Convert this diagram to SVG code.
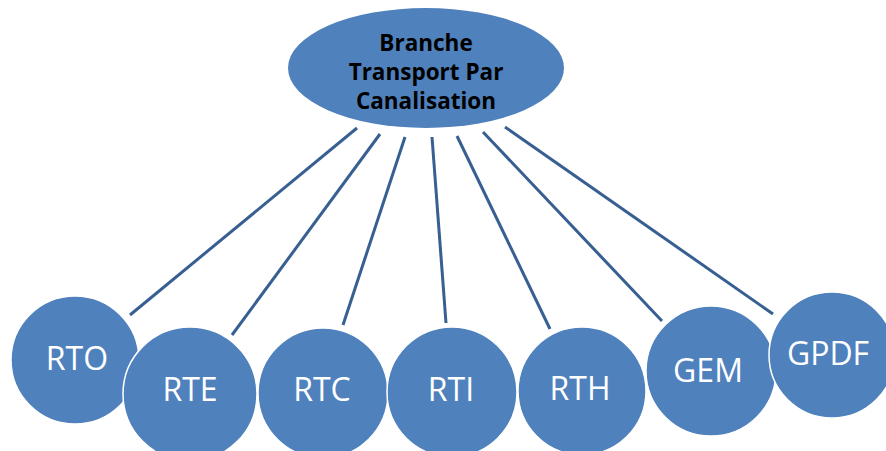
<svg xmlns="http://www.w3.org/2000/svg" width="886" height="451" viewBox="0 0 886 451">
<style>
.node{fill:#4F81BD;stroke:#FFFFFF;stroke-width:1.5}
.top{fill:#4F81BD;stroke:none}
.lbl{font-family:"Open Sans","Liberation Sans",sans-serif;font-size:32px;fill:#FFFFFF;text-anchor:middle;dominant-baseline:central}
.ttl{font-family:"Open Sans","Liberation Sans",sans-serif;font-weight:700;font-size:22.5px;fill:#000000;text-anchor:middle;dominant-baseline:central}
.conn line{stroke:#375F91;stroke-width:3;stroke-linecap:butt}
</style>
<rect width="886" height="451" fill="#FFFFFF"/>
<g id="connectors" class="conn">
<line x1="357" y1="128" x2="130" y2="315"/>
<line x1="380" y1="134" x2="232" y2="335"/>
<line x1="405" y1="137" x2="343" y2="325"/>
<line x1="432" y1="137" x2="446" y2="323"/>
<line x1="457" y1="136" x2="550" y2="329"/>
<line x1="483" y1="132" x2="662" y2="321"/>
<line x1="505" y1="127" x2="773" y2="314"/>
</g>
<g id="root">
<ellipse class="top" cx="426" cy="68" rx="138" ry="60"/>
<text class="ttl" x="426" y="42">Branche</text>
<text class="ttl" x="426" y="71">Transport Par</text>
<text class="ttl" x="426" y="100">Canalisation</text>
</g>
<g id="n-rto"><circle class="node" cx="75" cy="360" r="64"/><text class="lbl" x="77" y="357">RTO</text></g>
<g id="n-rte"><circle class="node" cx="190" cy="394" r="67"/><text class="lbl" x="190" y="388">RTE</text></g>
<g id="n-rtc"><circle class="node" cx="323" cy="393" r="65"/><text class="lbl" x="322" y="388">RTC</text></g>
<g id="n-rti"><circle class="node" cx="452" cy="392" r="65"/><text class="lbl" x="451" y="388">RTI</text></g>
<g id="n-rth"><circle class="node" cx="582" cy="391" r="64"/><text class="lbl" x="580" y="387">RTH</text></g>
<g id="n-gem"><circle class="node" cx="711" cy="371" r="65"/><text class="lbl" x="708" y="369">GEM</text></g>
<g id="n-gpdf"><circle class="node" cx="832" cy="355" r="63"/><text class="lbl" x="828" y="352">GPDF</text></g>
</svg>
